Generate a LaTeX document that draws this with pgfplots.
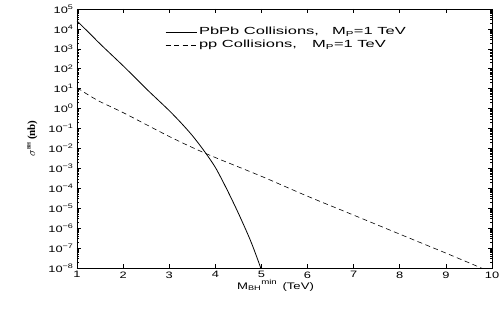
\documentclass[border=0pt]{standalone}
\usepackage{fontspec}
\setmainfont{Liberation Sans}[FakeStretch=1.38]
\newfontfamily\legfont{Liberation Sans}[FakeStretch=1.6]
\newfontfamily\seriffont{Liberation Serif}
\usepackage{pgfplots}
\pgfplotsset{compat=1.18}
\begin{document}
\begin{tikzpicture}
\begin{axis}[
  scale only axis,
  width=415pt, height=259pt,
  ymode=log,
  xmin=1, xmax=10,
  ymin=1e-8, ymax=1e5,
  xtick={1,2,...,10},
  ytick={1e-8,1e-7,1e-6,1e-5,1e-4,1e-3,1e-2,1e-1,1e0,1e1,1e2,1e3,1e4,1e5},
  yticklabels={10\textsuperscript{−8},10\textsuperscript{−7},10\textsuperscript{−6},10\textsuperscript{−5},10\textsuperscript{−4},10\textsuperscript{−3},10\textsuperscript{−2},10\textsuperscript{−1},10\textsuperscript{0},10\textsuperscript{1},10\textsuperscript{2},10\textsuperscript{3},10\textsuperscript{4},10\textsuperscript{5}},
  /pgf/number format/assume math mode=true,
  tick label style={font=\fontsize{9.3}{11}\selectfont},
  major tick length=4pt,
  minor tick length=2pt,
  tick style={black, line width=0.6pt},
  axis line style={line width=0.8pt},
  xlabel={M\textsubscript{BH}\raisebox{0.9ex}{\scriptsize min}\hspace{0.6em}(TeV)},
  ylabel={{\seriffont\fontsize{11}{13}\selectfont$\sigma$\raisebox{0.9ex}{\tiny\bfseries BH} \bfseries(nb)}},
  label style={font=\fontsize{9.5}{12}\selectfont},
  xlabel style={yshift=5.5pt, xshift=-9pt},
  ylabel style={yshift=4pt},
  clip=true,
  legend cell align=left,
  legend style={draw=none, fill=none, at={(0.205,0.945)}, anchor=north west,
    font=\legfont\fontsize{10.3}{12}\selectfont, row sep=0pt},
  legend image code/.code={\draw[#1] (0pt,0pt) -- (31pt,0pt);},
]
\addplot[black, line width=0.8pt, smooth] coordinates {
(1.0,2.51e4) (1.25,6.76e3) (1.5,1.78e3) (1.75,501) (2.0,141) (2.25,38)
(2.5,10) (2.75,2.82) (3.0,0.794) (3.25,0.2) (3.5,0.0447) (3.75,7.9e-3)
(4.0,1.12e-3) (4.25,8.9e-5) (4.5,5.6e-6) (4.75,2.8e-7) (4.9,3.5e-8) (5.0,7.9e-9)
};
\addlegendentry{PbPb Collisions,\hspace{13pt}M\textsubscript{P}=1 TeV}
\addplot[black, line width=0.6pt, dash pattern=on 5pt off 3.5pt, smooth] coordinates {
(1.0,11.2) (1.25,4.8) (1.5,2.24) (2.0,0.63) (2.5,0.158) (3.0,0.04) (3.5,0.0112)
(4.0,3.5e-3) (5.0,4e-4) (6.0,4e-5) (7.0,4.5e-6) (8.0,5e-7) (9.0,5.6e-8) (9.8,9.3e-9)
};
\addlegendentry{pp Collisions,\hspace{15pt}M\textsubscript{P}=1 TeV}
\end{axis}
\path ([xshift=-77pt,yshift=-44pt]current axis.south west) rectangle ([xshift=12pt,yshift=9pt]current axis.north east);
\end{tikzpicture}
\end{document}
